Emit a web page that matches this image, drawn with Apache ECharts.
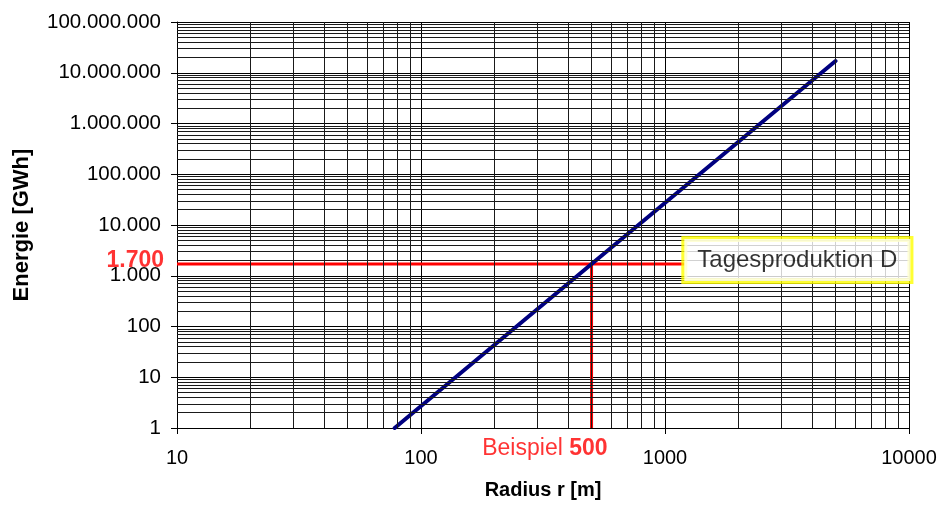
<!DOCTYPE html>
<html>
<head>
<meta charset="utf-8">
<script src="https://cdn.jsdelivr.net/npm/echarts@6/dist/echarts.min.js"></script>
<style>
  html, body { margin: 0; padding: 0; background: #fff; }
  #chart { width: 944px; height: 506px; }
</style>
</head>
<body>
<div id="chart"></div>
<script>
// Energie ~ r^4 (Gerade im doppelt-logarithmischen Diagramm)
const energyLine = [[78, 1], [500, 1700], [5000, 17000000]]

// Beispiel: r = 500 m -> 1.700 GWh
const exampleR = 500
const exampleE = 1700
const exampleBoxR = 1200 // bis hier läuft die rote Linie (Beginn der Box)

const xDecades = [10, 100, 1000]
const yDecades = [1, 10, 100, 1000, 10000, 100000, 1000000, 10000000]
const minorSteps = [2, 3, 4, 5, 6, 7, 8, 9]

const boxText = 'Tagesproduktion D'
const yMarkText = '1.700'

const FONT = 'Liberation Sans, Arial, sans-serif'

// Nebengitter (2..9 je Dekade)
const xMinor = []
xDecades.forEach(d => minorSteps.forEach(m => xMinor.push(d * m)))
const yMinor = []
yDecades.forEach(d => minorSteps.forEach(m => yMinor.push(d * m)))

// Tausenderpunkte wie im Original
const fmtDE = v => String(Math.round(v)).replace(/\B(?=(\d{3})+(?!\d))/g, '.')

const chart = echarts.init(document.getElementById('chart'))

chart.setOption({
  animation: false,
  grid: { left: 177, right: 35, top: 22, bottom: 78 },
  xAxis: {
    type: 'log',
    logBase: 10,
    min: 10,
    max: 10000,
    name: 'Radius r [m]',
    nameLocation: 'middle',
    nameGap: 52,
    nameTextStyle: { fontFamily: FONT, fontSize: 20, fontWeight: 'bold', color: '#000' },
    axisLine: { show: true, lineStyle: { color: '#000', width: 1 } },
    axisTick: { show: true, length: 6, lineStyle: { color: '#000' } },
    axisLabel: { fontFamily: FONT, fontSize: 20, color: '#000', margin: 20, formatter: v => String(Math.round(v)) },
    splitLine: { show: true, lineStyle: { color: '#000', width: 1 } }
  },
  yAxis: {
    type: 'log',
    logBase: 10,
    min: 1,
    max: 100000000,
    splitNumber: 8,
    name: 'Energie [GWh]',
    nameLocation: 'middle',
    nameGap: 144,
    nameTextStyle: { fontFamily: FONT, fontSize: 22, fontWeight: 'bold', color: '#000' },
    axisLine: { show: true, lineStyle: { color: '#000', width: 1 } },
    axisTick: { show: true, length: 6, lineStyle: { color: '#000' } },
    axisLabel: { fontFamily: FONT, fontSize: 20.5, color: '#000', margin: 16, formatter: fmtDE },
    splitLine: { show: true, lineStyle: { color: '#000', width: 1 } }
  },
  series: [
    {
      // Nebengitterlinien
      type: 'line',
      data: [],
      z: 1,
      silent: true,
      markLine: {
        silent: true,
        symbol: ['none', 'none'],
        label: { show: false },
        animation: false,
        lineStyle: { color: '#1a1a1a', width: 1, type: 'solid' },
        data: xMinor.map(v => ({ xAxis: v })).concat(yMinor.map(v => ({ yAxis: v })))
      }
    },
    {
      // horizontale rote Linie
      type: 'line',
      data: [[10, exampleE], [exampleBoxR, exampleE]],
      z: 3,
      symbol: 'none',
      lineStyle: { color: '#ff0000', width: 3 }
    },
    {
      // vertikale rote Linie
      type: 'line',
      data: [[exampleR, 1], [exampleR, exampleE]],
      z: 3,
      symbol: 'none',
      lineStyle: { color: '#ff0000', width: 3 }
    },
    {
      type: 'line',
      data: energyLine,
      z: 4,
      symbol: 'none',
      lineStyle: { color: '#000080', width: 4, cap: 'round' }
    },
    {
      // Beschriftung 1.700 an der y-Achse
      type: 'scatter',
      data: [[10, exampleE]],
      symbolSize: 0,
      clip: false,
      z: 6,
      label: {
        show: true,
        position: 'left',
        distance: 13,
        offset: [0, -3],
        formatter: yMarkText,
        fontFamily: FONT,
        fontSize: 23,
        fontWeight: 'bold',
        color: '#ff0000'
      }
    },
    {
      // Beschriftung Beispiel 500 unter der x-Achse
      type: 'scatter',
      data: [[exampleR, 1]],
      symbolSize: 0,
      clip: false,
      z: 6,
      label: {
        show: true,
        position: 'bottom',
        distance: 9,
        align: 'right',
        offset: [16, 0],
        formatter: '{n|Beispiel }{b|' + exampleR + '}',
        rich: {
          n: { fontFamily: FONT, fontSize: 23, color: '#ff0000' },
          b: { fontFamily: FONT, fontSize: 23, fontWeight: 'bold', color: '#ff0000' }
        }
      }
    },
    {
      // Textbox Tagesproduktion D
      type: 'scatter',
      data: [[exampleBoxR, exampleE]],
      symbolSize: 0,
      clip: false,
      z: 7,
      label: {
        show: true,
        position: 'right',
        distance: 0,
        offset: [0, -4],
        formatter: boxText,
        fontFamily: FONT,
        fontSize: 24,
        lineHeight: 28,
        color: '#000',
        backgroundColor: '#fff',
        borderColor: '#ffff00',
        borderWidth: 3,
        padding: [7, 13, 7, 13]
      }
    }
  ]
})
</script>
</body>
</html>
